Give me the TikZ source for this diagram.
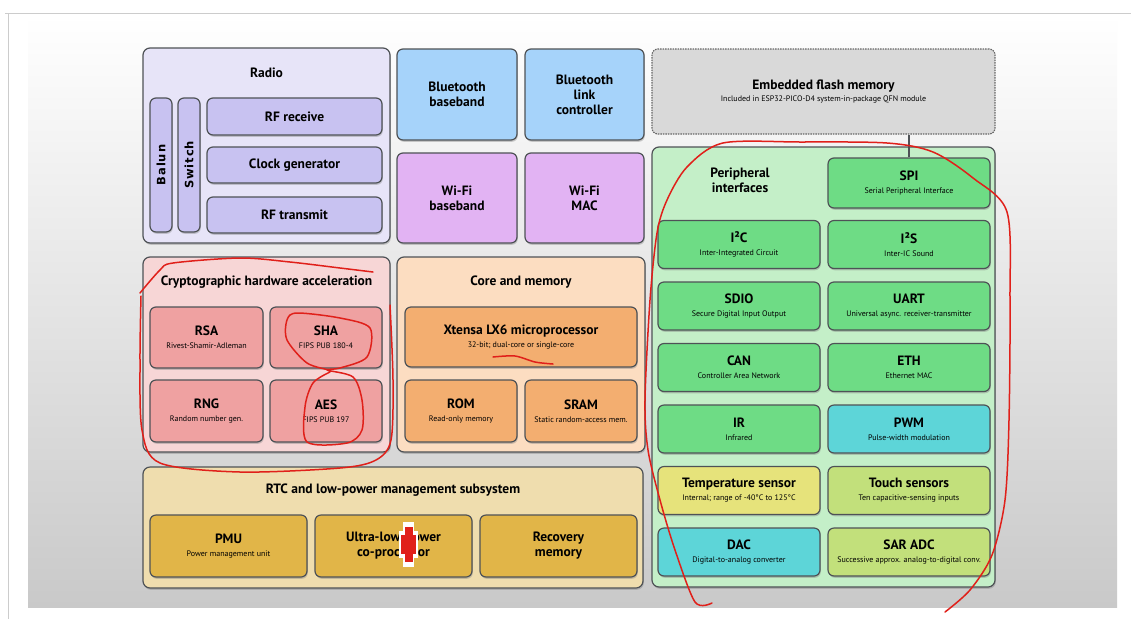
\documentclass[tikz,border=0pt]{standalone}
\usepackage{fontspec}
\setmainfont{PT Sans}
\newfontfamily\widefont[LetterSpace=8]{DejaVu Sans}
\usetikzlibrary{shadows}

\definecolor{edge}{HTML}{4E5256}
\definecolor{radioBg}{HTML}{E7E4F8}
\definecolor{radioBox}{HTML}{C8C2F1}
\definecolor{btBox}{HTML}{A6D3FA}
\definecolor{wifiBox}{HTML}{E2B3F3}
\definecolor{cryptoBg}{HTML}{F7D6D6}
\definecolor{cryptoBox}{HTML}{EFA1A1}
\definecolor{coreBg}{HTML}{FCDDC1}
\definecolor{coreBox}{HTML}{F3AE70}
\definecolor{rtcBg}{HTML}{EFDDAE}
\definecolor{rtcBox}{HTML}{E1B548}
\definecolor{flashBg}{HTML}{D9D9D9}
\definecolor{periBg}{HTML}{C4EFC8}
\definecolor{periBox}{HTML}{6EDC85}
\definecolor{cyanBox}{HTML}{5DD5D8}
\definecolor{tempBox}{HTML}{E6E37B}
\definecolor{limeBox}{HTML}{C2E07B}
\definecolor{slideGray}{HTML}{C9C9C9}
\definecolor{scrib}{HTML}{E0201A}

\newcommand{\subtxt}[1]{{\mdseries\fontsize{8}{9}\selectfont #1}}

\tikzset{
  sz/.style 2 args={minimum width=#1pt, minimum height=#2pt},
  panel/.style={draw=edge, line width=1.2pt, rounded corners=7pt,
    drop shadow={shadow xshift=0.8pt, shadow yshift=-1.8pt, opacity=0.4}},
  blk/.style={draw=edge, line width=1.2pt, rounded corners=6pt, align=center, inner sep=1pt,
    font=\bfseries\fontsize{13.5}{15}\selectfont,
    drop shadow={shadow xshift=0.8pt, shadow yshift=-1.8pt, opacity=0.4}},
  ttl/.style={font=\bfseries\fontsize{13.5}{15}\selectfont, align=center, inner sep=0pt},
  vlabel/.style={rotate=90, font=\widefont\bfseries\fontsize{11.5}{12}\selectfont},
  scribble/.style={draw=scrib, line width=1.5pt, line cap=round, line join=round},
}

\begin{document}
\begin{tikzpicture}[x=1pt, y=-1pt]
  % screen and slide
  \useasboundingbox (0,0) rectangle (1131,619);
  \fill[white] (0,0) rectangle (1131,619);
  \draw[gray!40, line width=1pt] (5,13) -- (1131,13);
  \draw[gray!40, line width=1pt] (8,13) -- (8,619);
  \shade[top color=white, bottom color=slideGray] (28,15) rectangle (1117,607);

  % radio
  \node[panel, fill=radioBg, sz={247}{195}] (radio) at (266.5,145.5) {};
  \node[ttl] (radiot) at (266.5,73) {Radio};
  \node[blk, fill=radioBox, sz={22}{134}] (balun) at (161,165) {};
  \node[vlabel] at (balun) {Balun};
  \node[blk, fill=radioBox, sz={22}{134}] (switch) at (189,165) {};
  \node[vlabel] at (switch) {Switch};
  \node[blk, fill=radioBox, sz={175}{37}] (rfrx) at (294.5,116.5) {RF receive};
  \node[blk, fill=radioBox, sz={175}{36}] (clk) at (294.5,165) {Clock generator};
  \node[blk, fill=radioBox, sz={175}{36}] (rftx) at (294.5,215) {RF transmit};

  % bluetooth and wi-fi
  \node[blk, fill=btBox, sz={120}{91}] (btbb) at (457,94.5) {Bluetooth\\baseband};
  \node[blk, fill=btBox, sz={119}{91}] (btlc) at (584.5,94.5) {Bluetooth\\link\\controller};
  \node[blk, fill=wifiBox, sz={120}{90}] (wfbb) at (457,198) {Wi-Fi\\baseband};
  \node[blk, fill=wifiBox, sz={119}{90}] (wfmac) at (584.5,198) {Wi-Fi\\MAC};

  % crypto
  \node[panel, fill=cryptoBg, sz={247}{195}] (crypto) at (266.5,354.5) {};
  \node[ttl] (cryptot) at (266.5,282) {Cryptographic hardware acceleration};
  \node[blk, fill=cryptoBox, sz={113}{61}] (rsa) at (206.5,337.5) {RSA\\[-2pt]\subtxt{Rivest-Shamir-Adleman}};
  \node[blk, fill=cryptoBox, sz={112}{61}] (sha) at (326,337.5) {SHA\\[-2pt]\subtxt{FIPS PUB 180-4}};
  \node[blk, fill=cryptoBox, sz={113}{62}] (rng) at (206.5,411) {RNG\\[-2pt]\subtxt{Random number gen.}};
  \node[blk, fill=cryptoBox, sz={112}{62}] (aes) at (326,411) {AES\\[-2pt]\subtxt{FIPS PUB 197}};

  % core and memory
  \node[panel, fill=coreBg, sz={248}{195}] (core) at (521,354.5) {};
  \node[ttl] (coret) at (521,282) {Core and memory};
  \node[blk, fill=coreBox, sz={232}{60}] (cpu) at (521,337) {Xtensa LX6 microprocessor\\[-2pt]\subtxt{32-bit; dual-core or single-core}};
  \node[blk, fill=coreBox, sz={112}{62}] (rom) at (461,411) {ROM\\[-2pt]\subtxt{Read-only memory}};
  \node[blk, fill=coreBox, sz={112}{62}] (sram) at (581,411) {SRAM\\[-2pt]\subtxt{Static random-access mem.}};

  % rtc
  \node[panel, fill=rtcBg, sz={500}{121}] (rtc) at (393,527.5) {};
  \node[ttl] (rtct) at (393,490) {RTC and low-power management subsystem};
  \node[blk, fill=rtcBox, sz={157}{62}] (pmu) at (228.5,546) {PMU\\[-2pt]\subtxt{Power management unit}};
  \node[blk, fill=rtcBox, sz={157}{62}] (ulp) at (393.5,546) {Ultra-low-power\\co-processor};
  \node[blk, fill=rtcBox, sz={157}{62}] (rec) at (558.5,546) {Recovery\\memory};

  % flash and peripherals
  \node[draw=gray!80!black, dash pattern=on 1.5pt off 1pt, line width=1.2pt, rounded corners=6pt,
    fill=flashBg, sz={343}{85}, align=center, font=\bfseries\fontsize{13.5}{15}\selectfont] (flash) at (823.5,91.5)
    {Embedded flash memory\\[-3pt]\subtxt{Included in ESP32-PICO-D4 system-in-package QFN module}};
  \node[panel, fill=periBg, sz={343}{440}] (peri) at (823.5,367) {};
  \node[ttl] (perit) at (740,180) {Peripheral\\interfaces};
  \node[blk, fill=periBox, sz={162}{50}] (spi) at (909,183) {SPI\\[-2pt]\subtxt{Serial Peripheral Interface}};
  \node[blk, fill=periBox, sz={162}{48}] (i2c) at (739,244.5) {I²C\\[-2pt]\subtxt{Inter-Integrated Circuit}};
  \node[blk, fill=periBox, sz={162}{48}] (i2s) at (909,244.5) {I²S\\[-2pt]\subtxt{Inter-IC Sound}};
  \node[blk, fill=periBox, sz={162}{48}] (sdio) at (739,306) {SDIO\\[-2pt]\subtxt{Secure Digital Input Output}};
  \node[blk, fill=periBox, sz={162}{48}] (uart) at (909,306) {UART\\[-2pt]\subtxt{Universal async. receiver-transmitter}};
  \node[blk, fill=periBox, sz={162}{48}] (can) at (739,367.5) {CAN\\[-2pt]\subtxt{Controller Area Network}};
  \node[blk, fill=periBox, sz={162}{48}] (eth) at (909,367.5) {ETH\\[-2pt]\subtxt{Ethernet MAC}};
  \node[blk, fill=periBox, sz={162}{48}] (ir) at (739,429) {IR\\[-2pt]\subtxt{Infrared}};
  \node[blk, fill=cyanBox, sz={162}{48}] (pwm) at (909,429) {PWM\\[-2pt]\subtxt{Pulse-width modulation}};
  \node[blk, fill=tempBox, sz={162}{48}] (temp) at (739,490.5) {Temperature sensor\\[-2pt]\subtxt{Internal; range of -40°C to 125°C}};
  \node[blk, fill=limeBox, sz={162}{48}] (touch) at (909,490.5) {Touch sensors\\[-2pt]\subtxt{Ten capacitive-sensing inputs}};
  \node[blk, fill=cyanBox, sz={162}{48}] (dac) at (739,552) {DAC\\[-2pt]\subtxt{Digital-to-analog converter}};
  \node[blk, fill=limeBox, sz={162}{48}] (adc) at (909,552) {SAR ADC\\[-2pt]\subtxt{Successive approx. analog-to-digital conv.}};

  \draw[edge, line width=1.2pt] (spi.north) -- (spi.north |- flash.south);

  % red pen marks
  \draw[scribble] plot[smooth] coordinates {(140,293) (160,270) (173,263) (240,258) (290,262) (340,268) (373,272)};
  \draw[scribble] plot[smooth] coordinates {(141,296) (140,360) (142,430) (160,463) (240,472) (340,468) (376,460) (391,440) (393,380) (390,305)};
  \draw[scribble] plot[smooth] coordinates {(330,370) (307,363) (287,340) (287,320) (297,313) (340,318) (370,328) (367,357) (340,368) (327,370)
    (353,377) (362,400) (362,430) (347,443) (307,442) (305,407) (313,383) (330,372)};
  \draw[scribble] plot[smooth] coordinates {(493,357) (515,356) (535,362) (553,364)};
  \draw[scribble] plot[smooth] coordinates {(712,603) (695,602) (675,550) (660,500) (648,450) (645,400) (650,300) (657,233) (667,200) (687,167)
    (723,143) (800,142) (887,143) (933,152) (973,178) (1007,212) (1010,300) (1009,420) (1005,500) (992,555) (970,590) (945,612)};
  \fill[white] (403,522) rectangle (414,567);
  \fill[white] (399,531) rectangle (418,558);
  \fill[scrib] (405,527) rectangle (413,562);
  \fill[scrib] (401,535) rectangle (416,554);
\end{tikzpicture}
\end{document}
